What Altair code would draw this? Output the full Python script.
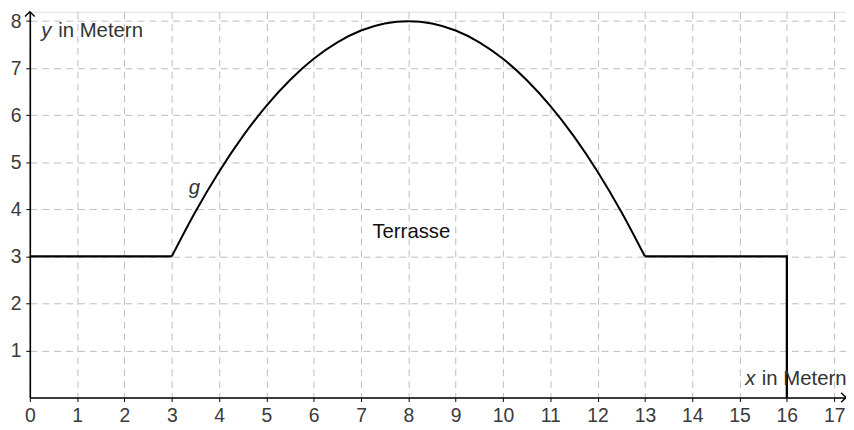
import altair as alt
import pandas as pd

# ---- data ----
curve_x = [3, 3.5, 4, 4.5, 5, 5.5, 6, 6.5, 7, 7.5, 8, 8.5, 9, 9.5, 10, 10.5, 11, 11.5, 12, 12.5, 13]
curve_y = [3, 3.95, 4.8, 5.55, 6.2, 6.75, 7.2, 7.55, 7.8, 7.95, 8, 7.95, 7.8, 7.55, 7.2, 6.75, 6.2, 5.55, 4.8, 3.95, 3]

edge_seg = ["left", "left", "right", "right", "right"]
edge_order = [0, 1, 0, 1, 2]
edge_x = [0, 3, 13, 16, 16]
edge_y = [3, 3, 3, 3, 0]

x_ticks = list(range(0, 18))
y_ticks = list(range(1, 9))

X_MAX = 17.25
Y_MAX = 8.2
X_UNIT = 47.7
Y_UNIT = 47.4
FONT = "Liberation Sans"
LABEL_COLOR = "#3a3a3a"

curve_df = pd.DataFrame({"x": curve_x, "y": curve_y})
edge_df = pd.DataFrame({"seg": edge_seg, "o": edge_order, "x": edge_x, "y": edge_y})
one_df = pd.DataFrame({"k": [0]})

xs = alt.Scale(domain=[0, X_MAX], nice=False, zero=False)
ys = alt.Scale(domain=[0, Y_MAX], nice=False, zero=False)

x_axis = alt.Axis(values=x_ticks, title=None, grid=True, gridDash=[7, 5], gridColor="#bdbdbd",
                  gridWidth=1, domainColor="black", domainWidth=1.6, tickColor="black",
                  tickSize=4, labelPadding=5, labelFont=FONT, labelFontSize=19.5,
                  labelColor=LABEL_COLOR, labelFlush=False, labelOverlap=False)
y_axis = alt.Axis(values=y_ticks, title=None, grid=True, gridDash=[7, 5], gridColor="#bdbdbd",
                  gridWidth=1, domainColor="black", domainWidth=1.6, tickColor="black",
                  tickSize=4, labelPadding=5, labelFont=FONT, labelFontSize=19.5,
                  labelColor=LABEL_COLOR, labelFlush=False, labelOverlap=False)

base_grid = alt.Chart(curve_df).mark_line(opacity=0).encode(
    x=alt.X("x:Q", scale=xs, axis=x_axis),
    y=alt.Y("y:Q", scale=ys, axis=y_axis),
)

curve = alt.Chart(curve_df).mark_line(color="black", strokeWidth=2, interpolate="monotone").encode(
    x=alt.X("x:Q", scale=xs), y=alt.Y("y:Q", scale=ys)
)

edges = alt.Chart(edge_df).mark_line(color="black", strokeWidth=2.3).encode(
    x=alt.X("x:Q", scale=xs), y=alt.Y("y:Q", scale=ys), detail="seg:N", order="o:Q"
)

def txt(s, x, y, italic=False, color="#222222"):
    return alt.Chart(one_df).mark_text(
        text=s, align="left", baseline="alphabetic", font=FONT, fontSize=20.5,
        fontStyle="italic" if italic else "normal", color=color
    ).encode(x=alt.datum(x, scale=xs), y=alt.datum(y, scale=ys))

labels = (
    txt("y", 0.24, 7.67, True, "#333333") + txt("in Metern", 0.6, 7.67, False, "#333333")
    + txt("x", 15.12, 0.27, True, "#333333") + txt("in Metern", 15.47, 0.27, False, "#333333")
    + txt("g", 3.36, 4.33, True, "#333333")
    + txt("Terrasse", 7.24, 3.38, False, "#111111")
)

up_arrow = alt.Chart(one_df).mark_point(
    shape="M-0.8,0.8L0,0L0.8,0.8", filled=False, stroke="black", strokeWidth=1.4, size=150, opacity=1
).encode(x=alt.datum(0, scale=xs), y=alt.datum(Y_MAX, scale=ys))

right_arrow = alt.Chart(one_df).mark_point(
    shape="M-0.8,-0.8L0,0L-0.8,0.8", filled=False, stroke="black", strokeWidth=1.4, size=150, opacity=1
).encode(x=alt.datum(X_MAX, scale=xs), y=alt.datum(0, scale=ys))

chart = alt.layer(base_grid, edges, curve, labels, up_arrow, right_arrow).properties(
    width=round(X_MAX * X_UNIT),
    height=round(Y_MAX * Y_UNIT),
    padding={"left": 22, "top": 2, "right": 0, "bottom": 30},
    autosize=alt.AutoSizeParams(type="none"),
).configure_view(strokeWidth=0).configure(background="white")

chart.save("out.html", embed_options={"renderer": "svg", "actions": False})
